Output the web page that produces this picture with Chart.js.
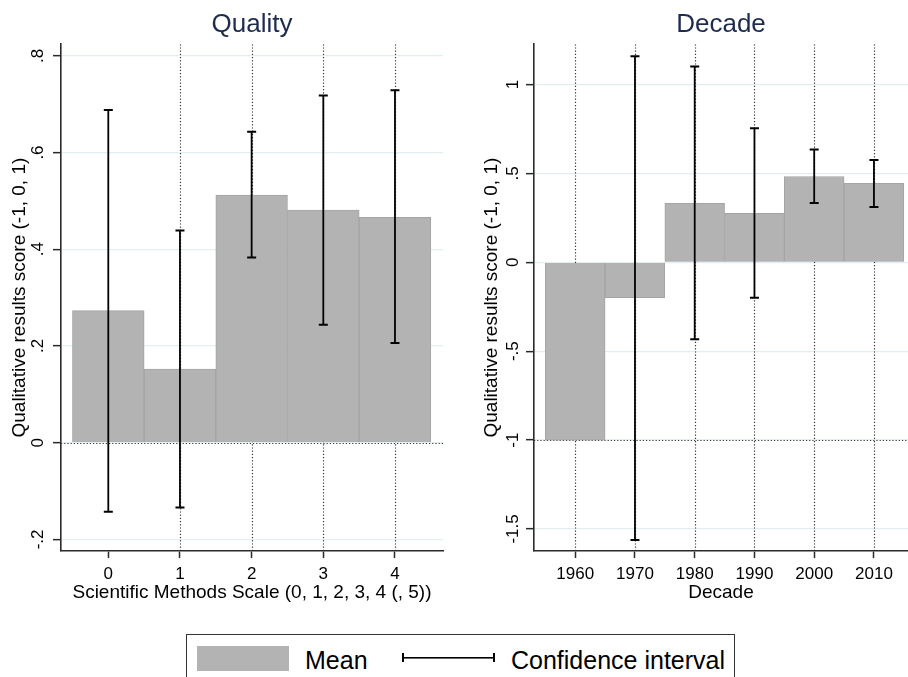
<!DOCTYPE html>
<html lang="en">
<head>
  <meta charset="UTF-8">
  <title>Quality and Decade</title>
  <script src="https://cdn.jsdelivr.net/npm/chart.js"></script>
  <style>
    body { margin: 0; background: #fff; font-family: "Liberation Sans", Arial, sans-serif; }
    #wrap { position: relative; width: 908px; height: 677px; overflow: hidden; }
    #leftChart { position: absolute; left: 0; top: 0; }
    #rightChart { position: absolute; left: 460px; top: 0; }
    #legend { position: absolute; left: 186px; top: 634px; width: 549px; height: 60px;
              border: 1px solid #333; box-sizing: border-box; }
    #legend .swatch { position: absolute; left: 10px; top: 11px; width: 92px; height: 25px; background: #b3b3b3; }
    #legend .ci { position: absolute; left: 215px; top: 18px; width: 93px; height: 9px; box-sizing: border-box;
                  border-left: 2px solid #000; border-right: 2px solid #000;
                  background: linear-gradient(#000, #000) center / 100% 1.6px no-repeat; }
    #legend .txt { position: absolute; top: 10px; font-size: 25px; line-height: 30px; color: #000; }
  </style>
</head>
<body>
<div id="wrap">
  <canvas id="leftChart" width="460" height="611"></canvas>
  <canvas id="rightChart" width="448" height="611"></canvas>
  <div id="legend">
    <div class="swatch"></div>
    <div class="txt" style="left:118px">Mean</div>
    <div class="ci"></div>
    <div class="txt" style="left:324px">Confidence interval</div>
  </div>
</div>

<script>
  // left panel: Scientific Methods Scale
  const qualityCats = [0, 1, 2, 3, 4];
  const qualityMean = [0.273, 0.152, 0.512, 0.481, 0.466];
  const qualityLo = [-0.143, -0.134, 0.383, 0.244, 0.206];
  const qualityHi = [0.688, 0.439, 0.643, 0.718, 0.729];
  const qualityYTicks = [-0.2, 0, 0.2, 0.4, 0.6, 0.8];
  const qualityYLabels = ['-.2', '0', '.2', '.4', '.6', '.8'];
  const qualityRefX = [1, 2, 3, 4];
  const qualityRefY = 0;

  // right panel: decade
  const decadeCats = [1960, 1970, 1980, 1990, 2000, 2010];
  const decadeMean = [-1, -0.199, 0.332, 0.276, 0.483, 0.444];
  const decadeLo = [null, -1.562, -0.433, -0.199, 0.334, 0.311];
  const decadeHi = [null, 1.159, 1.101, 0.754, 0.634, 0.575];
  const decadeYTicks = [-1.5, -1, -0.5, 0, 0.5, 1];
  const decadeYLabels = ['-1.5', '-1', '-.5', '0', '.5', '1'];
  const decadeRefX = [1960, 1970, 1980, 1990, 2000, 2010];
  const decadeRefY = -1;

  const FONT = "'Liberation Sans', Arial, sans-serif";
  const AXIS = '#2a2a2a';

  // dotted reference lines behind the bars
  const refLines = {
    id: 'refLines',
    beforeDatasetsDraw(chart, args, opts) {
      const { ctx, chartArea: a, scales: { x, y } } = chart;
      ctx.save();
      ctx.beginPath();
      ctx.rect(a.left, a.top, a.right - a.left, a.bottom - a.top);
      ctx.clip();
      ctx.strokeStyle = '#333';
      ctx.lineWidth = 1.2;
      ctx.setLineDash([1.2, 2]);
      opts.xs.forEach(v => {
        const px = Math.round(x.getPixelForValue(v)) + 0.5;
        ctx.beginPath(); ctx.moveTo(px, a.top); ctx.lineTo(px, a.bottom); ctx.stroke();
      });
      const py = Math.round(y.getPixelForValue(opts.y)) + 0.5;
      ctx.beginPath(); ctx.moveTo(a.left, py); ctx.lineTo(a.right, py); ctx.stroke();
      ctx.restore();
    }
  };

  // Stata style vertical y tick labels
  const vertLabels = {
    id: 'vertLabels',
    afterDraw(chart, args, opts) {
      const { ctx, scales: { y } } = chart;
      ctx.save();
      ctx.font = '17px ' + FONT;
      ctx.fillStyle = '#000';
      ctx.textAlign = 'center';
      ctx.textBaseline = 'middle';
      y.ticks.forEach((t, i) => {
        const py = y.getPixelForValue(t.value);
        ctx.save();
        ctx.translate(opts.cx, py);
        ctx.rotate(-Math.PI / 2);
        ctx.fillText(opts.labels[i], 0, 0);
        ctx.restore();
      });
      ctx.restore();
    }
  };

  function ciPoints(cats, lo, hi) {
    const pts = [];
    cats.forEach((c, i) => {
      if (lo[i] === null) return;
      pts.push({ x: c, y: lo[i] }, { x: c, y: hi[i] }, { x: c, y: null });
    });
    return pts;
  }

  function makeChart(id, cfg) {
    return new Chart(document.getElementById(id), {
      type: 'bar',
      data: {
        datasets: [{
          type: 'line',
          label: 'Confidence interval',
          data: ciPoints(cfg.cats, cfg.lo, cfg.hi),
          borderColor: '#000',
          borderWidth: 1.8,
          spanGaps: false,
          pointStyle: 'line',
          pointRadius: 4.5,
          pointBorderWidth: 2,
          pointBorderColor: '#000',
          order: 1
        }, {
          label: 'Mean',
          data: cfg.cats.map((c, i) => ({ x: c, y: cfg.mean[i] })),
          backgroundColor: '#b3b3b3',
          borderColor: '#a4a4a4',
          borderWidth: 1,
          barPercentage: 1,
          categoryPercentage: 1,
          order: 2
        }]
      },
      options: {
        responsive: false,
        animation: false,
        layout: { autoPadding: false, padding: { left: 0, right: cfg.padRight, top: 0, bottom: 0 } },
        plugins: {
          legend: { display: false },
          tooltip: { enabled: false },
          title: {
            display: true,
            text: cfg.title,
            fullSize: false,
            color: '#1c2b4e',
            font: { family: FONT, size: 26, weight: 'normal' },
            padding: { top: 9, bottom: 4 }
          },
          refLines: { xs: cfg.refX, y: cfg.refY },
          vertLabels: { labels: cfg.yLabels, cx: cfg.labelX }
        },
        scales: {
          x: {
            type: 'linear',
            min: cfg.xMin,
            max: cfg.xMax,
            offset: false,
            afterBuildTicks: s => { s.ticks = cfg.cats.map(v => ({ value: v })); },
            afterFit: s => { s.height = 60; s.paddingLeft = 0; s.paddingRight = 0; },
            ticks: {
              callback: v => String(v),
              color: '#000',
              font: { family: FONT, size: 17 },
              padding: 6,
              maxRotation: 0
            },
            grid: { offset: false, drawOnChartArea: false, drawTicks: true, tickLength: 7, tickColor: AXIS, tickWidth: 1.5 },
            border: { color: AXIS, width: 1.6 },
            title: {
              display: true,
              text: cfg.xTitle,
              color: '#000',
              font: { family: FONT, size: 19 },
              padding: { top: 0, bottom: 6.5 }
            }
          },
          y: {
            min: cfg.yMin,
            max: cfg.yMax,
            afterBuildTicks: s => { s.ticks = cfg.yTicks.map(v => ({ value: v })); },
            afterFit: s => { s.width = cfg.yWidth; s.paddingTop = 0; s.paddingBottom = 0; },
            ticks: { display: false },
            grid: { color: '#e4eef0', lineWidth: 1.3, drawTicks: true, tickLength: 8, tickColor: AXIS, tickWidth: 1.5 },
            border: { color: AXIS, width: 1.6 },
            title: {
              display: true,
              text: 'Qualitative results score (-1, 0, 1)',
              color: '#000',
              font: { family: FONT, size: 19 },
              padding: { top: cfg.titlePad, bottom: 0 }
            }
          }
        }
      },
      plugins: [refLines, vertLabels]
    });
  }

  makeChart('leftChart', {
    title: 'Quality',
    cats: qualityCats, mean: qualityMean, lo: qualityLo, hi: qualityHi,
    yTicks: qualityYTicks, yLabels: qualityYLabels,
    refX: qualityRefX, refY: qualityRefY,
    xMin: -0.66, xMax: 4.67, yMin: -0.224, yMax: 0.824,
    xTitle: 'Scientific Methods Scale (0, 1, 2, 3, 4 (, 5))',
    yWidth: 61, padRight: 17, labelX: 38, titlePad: 8
  });

  makeChart('rightChart', {
    title: 'Decade',
    cats: decadeCats, mean: decadeMean, lo: decadeLo, hi: decadeHi,
    yTicks: decadeYTicks, yLabels: decadeYLabels,
    refX: decadeRefX, refY: decadeRefY,
    xMin: 1953.1, xMax: 2015.7, yMin: -1.624, yMax: 1.227,
    xTitle: 'Decade',
    yWidth: 74, padRight: 0, labelX: 53, titlePad: 20
  });
</script>
</body>
</html>
